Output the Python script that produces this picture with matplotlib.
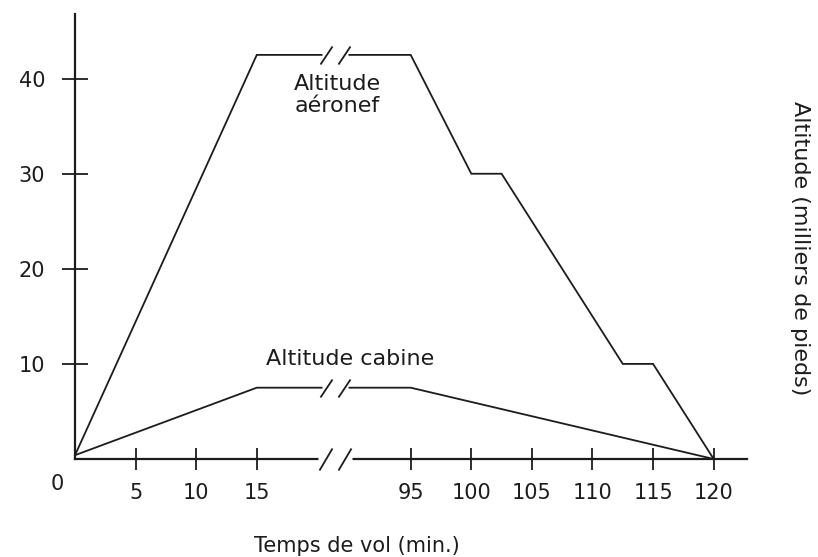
import numpy as np
import matplotlib
matplotlib.use("Agg")
import matplotlib.pyplot as plt
from matplotlib.path import Path

# Flight profile: time in minutes, altitude in thousands of feet
minutes_aircraft = [0, 15, 95, 100, 102.5, 112.5, 115, 120]
altitude_aircraft = [0.4, 42.5, 42.5, 30, 30, 10, 10, 0]
minutes_cabin = [0, 15, 95, 120]
altitude_cabin = [0.4, 7.5, 7.5, 0]

x_ticks = [5, 10, 15, 95, 100, 105, 110, 115, 120]
y_ticks = [10, 20, 30, 40]

INK = "#1c1c1c"

# Broken time axis: the cruise between 15 and 95 min is squeezed into a short gap
BREAK_LO, BREAK_HI = 15.0, 95.0
GAP = 12.7
BREAK_MID = 55.6


def fwd(t):
    t = np.asarray(t, dtype=float)
    span = BREAK_HI - BREAK_LO
    return np.where(t <= BREAK_LO, t,
                    np.where(t >= BREAK_HI, t - span + GAP,
                             BREAK_LO + (t - BREAK_LO) * GAP / span))


def inv(s):
    s = np.asarray(s, dtype=float)
    span = BREAK_HI - BREAK_LO
    return np.where(s <= BREAK_LO, s,
                    np.where(s >= BREAK_LO + GAP, s + span - GAP,
                             BREAK_LO + (s - BREAK_LO) * span / GAP))


fig = plt.figure(figsize=(8.18, 5.57), dpi=100)
ax = fig.add_axes([75 / 818, 98 / 557, 672 / 818, 445 / 557])
ax.set_xscale("function", functions=(fwd, inv))
ax.set_xlim(0, 122.75)
ax.set_ylim(0, 46.8)

ax.plot(minutes_aircraft, altitude_aircraft, color=INK, lw=1.3,
        solid_joinstyle="miter", clip_on=False, zorder=3)
ax.plot(minutes_cabin, altitude_cabin, color=INK, lw=1.3,
        solid_joinstyle="miter", clip_on=False, zorder=3)

for side in ("top", "right"):
    ax.spines[side].set_visible(False)
for side in ("left", "bottom"):
    ax.spines[side].set_linewidth(1.6)
    ax.spines[side].set_color(INK)

ax.set_xticks(x_ticks)
ax.set_xticklabels([str(v) for v in x_ticks])
ax.set_yticks(y_ticks)
ax.set_yticklabels([str(v) for v in y_ticks])
ax.tick_params(axis="y", direction="inout", length=19.4, width=1.3,
               pad=11.9, labelsize=15, colors=INK)
ax.tick_params(axis="x", direction="inout", length=15.8, width=1.3,
               pad=9.4, labelsize=15, colors=INK)

ax.annotate("0", xy=(0, 0), xycoords="axes fraction", xytext=(-13, -18),
            textcoords="offset points", ha="center", va="center",
            fontsize=15, color=INK)

# Break symbols "//" with a short white gap under them
MV, LN = Path.MOVETO, Path.LINETO


def marker_size(path):
    return 2 * np.max(np.abs(path.vertices)) * 72 / fig.dpi


slash = Path([(-15, -9), (-3, 9), (3, -9), (15, 9)], [MV, LN, MV, LN])
gap = Path([(-13, -4), (13, -4), (13, 4), (-13, 4), (-13, -4)],
           [MV, LN, LN, LN, Path.CLOSEPOLY])
axis_slash = Path([(-16, -11), (-3, 11), (3, -11), (16, 11)], [MV, LN, MV, LN])
axis_gap = Path([(-17, -4), (17, -4), (17, 4), (-17, 4), (-17, -4)],
                [MV, LN, LN, LN, Path.CLOSEPOLY])

for y, s, g in [(altitude_aircraft[1], slash, gap),
                (altitude_cabin[1], slash, gap),
                (0, axis_slash, axis_gap)]:
    ax.plot([BREAK_MID], [y], marker=g, markersize=marker_size(g),
            markerfacecolor="white", markeredgecolor="none",
            linestyle="none", clip_on=False, zorder=5)
    ax.plot([BREAK_MID], [y], marker=s, markersize=marker_size(s),
            markerfacecolor="none", markeredgecolor=INK, markeredgewidth=1.3,
            linestyle="none", clip_on=False, zorder=6)

ax.text(0.390, 0.818, "Altitude\naéronef", transform=ax.transAxes,
        ha="center", va="center", fontsize=16, color=INK, linespacing=1.1)
ax.text(0.409, 0.225, "Altitude cabine", transform=ax.transAxes,
        ha="center", va="center", fontsize=16, color=INK)

ax.set_xlabel("Temps de vol (min.)", fontsize=15, color=INK)
ax.xaxis.set_label_coords(0.42, -0.172)

ax.yaxis.set_label_position("right")
ax.set_ylabel("Altitude (milliers de pieds)", rotation=270, fontsize=16,
              color=INK, ha="center", va="center")
ax.yaxis.set_label_coords(1.079, 0.474)

fig.savefig("out.png", dpi=100, facecolor="white")
